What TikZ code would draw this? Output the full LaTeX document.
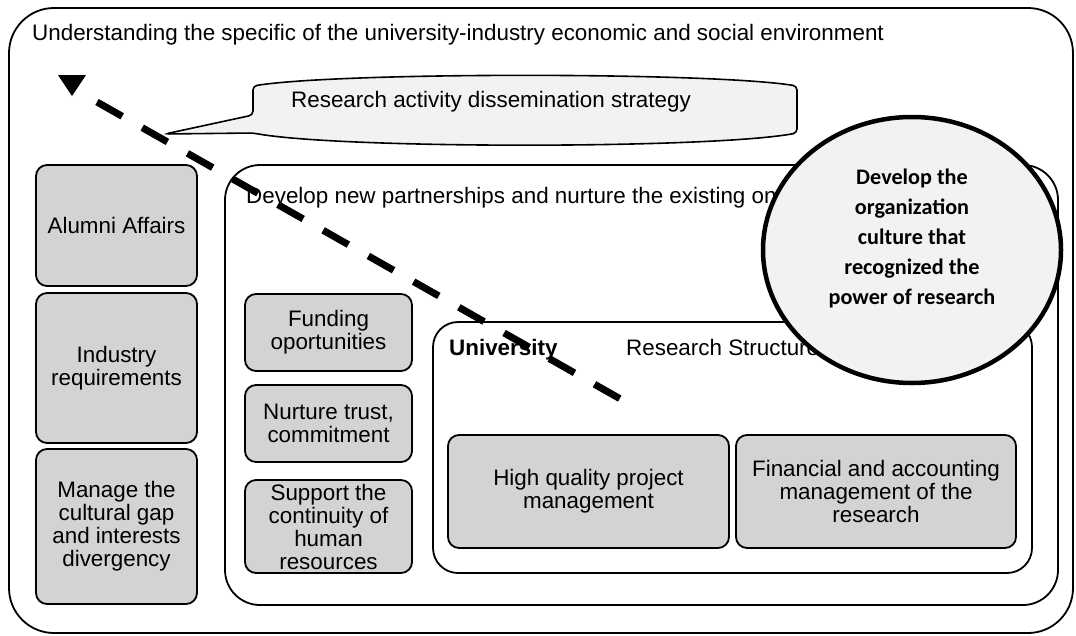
\documentclass[tikz,border=0pt]{standalone}
\usepackage{fontspec}
\setmainfont{Liberation Sans}
\newfontfamily\calfont{Carlito}
\usetikzlibrary{shapes.geometric}
\definecolor{boxgray}{HTML}{D3D3D3}
\definecolor{palegray}{HTML}{F2F2F2}
\newcommand\txtsize{\fontsize{22.4}{23}\selectfont}
\tikzset{
  frame/.style={draw=black, line width=1.8pt, rounded corners=#1, inner sep=0pt},
  frame/.default=30pt,
  graybox/.style={draw=black, line width=1.8pt, fill=boxgray, rounded corners=11pt, align=center, inner sep=0pt, font=\txtsize},
  caption/.style={anchor=base west, inner sep=0pt, font=\txtsize},
  culture/.style={ellipse, draw=black, line width=4.5pt, fill=palegray, inner sep=0pt},
  culturetext/.style={align=center, inner sep=0pt, font=\calfont\bfseries\fontsize{22.2}{30}\selectfont},
  callout/.style={draw=black, line width=1.6pt, fill=palegray, rounded corners=4pt},
  dashline/.style={line width=7pt, dash pattern=on 29pt off 23pt}
}

\begin{document}
\begin{tikzpicture}[x=1pt, y=-1pt]
  \useasboundingbox (0,0) rectangle (1076,635);

  % frames
  \node[frame=45pt, minimum width=1064pt, minimum height=625pt] (environment) at (541,320.5) {};
  \node[frame=35pt, minimum width=833pt, minimum height=440pt] (partners) at (641.5,385) {};
  \node[frame=25pt, minimum width=599pt, minimum height=251pt] (university) at (732.5,447.5) {};

  % frame captions
  \node[caption] (envtext) at (32,40) {Understanding the specific of the university-industry economic and social environment};
  \node[caption] (partnertext) at (246,203) {Develop new partnerships and nurture the existing ones};
  \node[caption, font=\txtsize\bfseries] (unitext) at (449,355) {University};
  \node[caption] (structtext) at (626,355) {Research Structure};

  % left column
  \node[graybox, minimum width=161pt, minimum height=121pt] (alumni) at (116.5,225.5) {Alumni Affairs};
  \node[graybox, minimum width=161pt, minimum height=150pt] (industry) at (116.5,368) {Industry\\requirements};
  \node[graybox, minimum width=161pt, minimum height=155pt] (gap) at (116.5,526.5) {Manage the\\cultural gap\\and interests\\divergency};

  % middle column
  \node[graybox, minimum width=167pt, minimum height=77pt] (funding) at (328.5,332.5) {Funding\\oportunities};
  \node[graybox, minimum width=167pt, minimum height=77pt] (trust) at (328.5,423.5) {Nurture trust,\\commitment};
  \node[graybox, minimum width=167pt, minimum height=93pt] (support) at (328.5,526.5) {Support the\\continuity of\\human\\resources};

  % research structure
  \node[graybox, minimum width=281pt, minimum height=113pt] (projects) at (588.5,491.5) {High quality project\\management};
  \node[graybox, minimum width=280pt, minimum height=113pt] (finance) at (876,491.5) {Financial and accounting\\management of the\\research};

  % callout
  \coordinate (callouttip) at (165,134);
  \draw[callout] (253,86) .. controls (340,72) and (710,72) .. (797,86) -- (797,133)
    .. controls (710,149) and (340,149) .. (253,133) -- (callouttip) -- (253,115) -- cycle;
  \node[caption] (dissemination) at (291,107) {Research activity dissemination strategy};

  % dashed arrow
  \coordinate (dashtop) at (97,102);
  \coordinate (dashend) at (624,401);
  \draw[dashline] (dashtop) -- (dashend);
  \fill (58,75) -- (86,75) -- (72,96) -- cycle;

  % culture ellipse
  \node[culture, minimum width=298pt, minimum height=266pt] (culture) at (912,250) {};
  \node[culturetext] (culturetext) at ([yshift=12pt]culture.center) {Develop the\\organization\\culture that\\recognized the\\power of research};
\end{tikzpicture}
\end{document}
